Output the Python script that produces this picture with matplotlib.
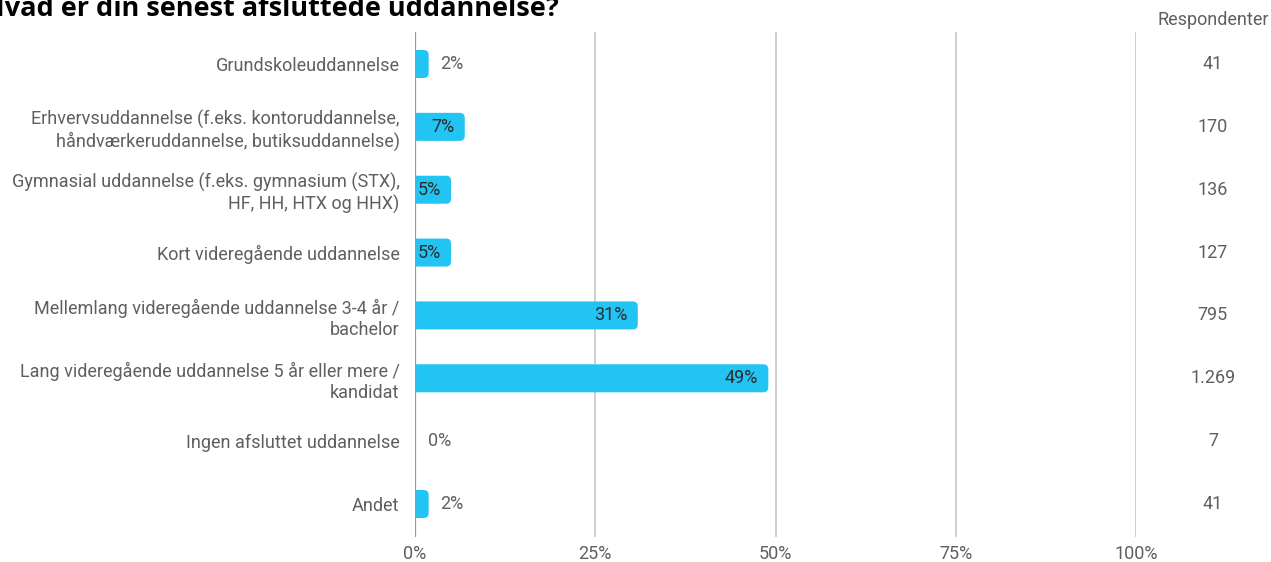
import matplotlib
matplotlib.use('Agg')
import matplotlib.pyplot as plt
from matplotlib.patches import FancyBboxPatch
from matplotlib.transforms import blended_transform_factory

categories = [
    'Grundskoleuddannelse',
    'Erhvervsuddannelse (f.eks. kontoruddannelse,\nhåndværkeruddannelse, butiksuddannelse)',
    'Gymnasial uddannelse (f.eks. gymnasium (STX),\nHF, HH, HTX og HHX)',
    'Kort videregående uddannelse',
    'Mellemlang videregående uddannelse 3-4 år /\nbachelor',
    'Lang videregående uddannelse 5 år eller mere /\nkandidat',
    'Ingen afsluttet uddannelse',
    'Andet',
]
percent = [1.9, 6.9, 5.0, 5.0, 30.9, 49.0, 0.3, 1.9]
pct_labels = ['2%', '7%', '5%', '5%', '31%', '49%', '0%', '2%']
respondents = ['41', '170', '136', '127', '795', '1.269', '7', '41']
xticks = [0, 25, 50, 75, 100]
xtick_labels = ['0%', '25%', '50%', '75%', '100%']

bar_color = '#22C4F4'
text_gray = '#5f5f5f'
plt.rcParams['font.family'] = ['Roboto', 'DejaVu Sans']
fs = 13

W, H = 1271, 562
fig = plt.figure(figsize=(W / 100, H / 100), dpi=100)
ax = fig.add_axes([415 / W, 1 - 537 / H, (1136 - 415) / W, (537 - 32) / H])
ax.set_xlim(0, 100)
ax.set_ylim(7.525, -0.509)

# pixel -> data scales for rounding
px_x = 100 / (1136 - 415)
px_y = (7.525 + 0.509) / (537 - 32)
bar_h = 28 * px_y
rad = 5 * px_x

resp_tf = blended_transform_factory(fig.transFigure, ax.transData)
for i, v in enumerate(percent):
    if v > 0.5:
        # start left of zero so the axes clip gives a square left edge
        p = FancyBboxPatch((-3 * rad, i - bar_h / 2), v + 3 * rad, bar_h,
                           boxstyle='round,pad=0,rounding_size=%f' % rad,
                           mutation_aspect=px_y / px_x,
                           fc=bar_color, ec='none', zorder=3)
        ax.add_patch(p)
    if v > 4:
        ax.text(v - 10 * px_x, i, pct_labels[i], ha='right', va='center',
                fontsize=fs, color='#2b2b2b', zorder=4)
    else:
        ax.text(v + 11 * px_x, i, pct_labels[i], ha='left', va='center',
                fontsize=fs, color=text_gray, zorder=4)
    ax.text(1213 / W, i, respondents[i], transform=resp_tf, clip_on=False,
            ha='center', va='center', fontsize=fs, color=text_gray)

fig.text(1213 / W, 1 - 20 / H, 'Respondenter', ha='center', va='center',
         fontsize=fs, color=text_gray)

for x in xticks[1:]:
    ax.axvline(x, color='#cccccc', lw=1.3, zorder=1)
ax.axvline(0, color='#999999', lw=1.6, zorder=5)

ax.set_yticks(range(len(categories)))
ax.set_yticklabels(categories, fontsize=fs, color=text_gray)
ax.set_xticks(xticks)
ax.set_xticklabels(xtick_labels, fontsize=fs, color=text_gray)
ax.tick_params(axis='y', length=0, pad=11)
ax.tick_params(axis='x', length=0, pad=6)
for s in ax.spines.values():
    s.set_visible(False)

fig.text(-16 / W, 1 - 16 / H, 'Hvad er din senest afsluttede uddannelse?',
         ha='left', va='baseline', fontsize=19.5, fontweight='bold',
         family=['Open Sans', 'DejaVu Sans'], color='black')

fig.savefig('out.png', dpi=100)
